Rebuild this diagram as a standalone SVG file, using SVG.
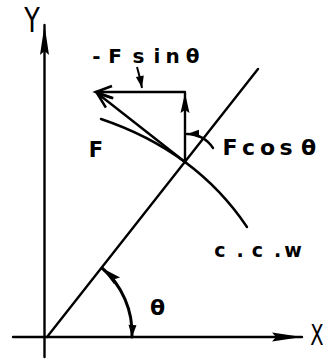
<svg xmlns="http://www.w3.org/2000/svg" width="323" height="359" viewBox="0 0 323 359">
<style>
.ln{fill:none;stroke:#000;stroke-width:2.4;stroke-linecap:round}
.thin{fill:none;stroke:#000;stroke-width:2}
.t{font-family:"DejaVu Sans","Liberation Sans",sans-serif;font-weight:bold;fill:#000}
.ax{font-family:"DejaVu Sans","Liberation Sans",sans-serif;font-weight:normal;fill:#000}
</style>
<defs>
<marker id="along" markerUnits="userSpaceOnUse" markerWidth="32" markerHeight="12" refX="30" refY="5" orient="auto" overflow="visible">
<path d="M0,0.5 L30,5 L0,9.5 L4,5 Z" fill="#000"/>
</marker>
<marker id="amid" markerUnits="userSpaceOnUse" markerWidth="22" markerHeight="12" refX="20" refY="4.5" orient="auto" overflow="visible">
<path d="M0,0 L20,4.5 L0,9 L3,4.5 Z" fill="#000"/>
</marker>
<marker id="aopen" markerUnits="userSpaceOnUse" markerWidth="18" markerHeight="14" refX="16" refY="6" orient="auto" overflow="visible">
<path d="M0,0 L16,6 L0,12" fill="none" stroke="#000" stroke-width="2.6" stroke-linejoin="miter"/>
</marker>
<marker id="asmall" markerUnits="userSpaceOnUse" markerWidth="14" markerHeight="10" refX="12" refY="4" orient="auto-start-reverse" overflow="visible">
<path d="M0,0 L12,4 L0,8 Z" fill="#000"/>
</marker>
</defs>
<g id="connectors">
<line id="y-axis" class="ln" x1="44.5" y1="357" x2="44.5" y2="25" marker-end="url(#along)"/>
<line id="x-axis" class="ln" x1="13" y1="337" x2="302" y2="337" marker-end="url(#along)"/>
<line id="diagonal" class="ln" x1="47" y1="337" x2="258" y2="69"/>
<path id="ccw-curve" class="ln" d="M101,119 Q196,151 247,227"/>
<line id="f-arrow" class="ln" x1="185" y1="162" x2="97" y2="93" marker-end="url(#aopen)"/>
<line id="fsin-arrow" class="ln" x1="185" y1="92" x2="96" y2="92" marker-end="url(#aopen)"/>
<line id="fcos-arrow" class="ln" x1="185" y1="162" x2="185" y2="93" marker-end="url(#amid)"/>
<path id="fsin-pointer" class="thin" d="M137,67 Q140,77 142,88" marker-end="url(#asmall)"/>
<path id="fcos-angle" class="ln" d="M213,148 A30,30 0 0 0 187,134" marker-end="url(#asmall)"/>
<path id="theta-arc" class="ln" style="stroke-width:3" d="M132,337 A86,86 0 0 0 102,268" marker-start="url(#asmall)" marker-end="url(#amid)"/>
</g>
<g id="label-Y"><text class="ax" transform="translate(32,32) scale(0.85,1.1)" font-size="30" text-anchor="middle">Y</text></g>
<g id="label-X"><text class="ax" transform="translate(317,345) scale(0.75,1.1)" font-size="26" text-anchor="middle">X</text></g>
<g id="label-fsin"><text class="t" x="96.5 115 138.5 157 172.5 192.5" y="63" font-size="20" text-anchor="middle">-Fsinθ</text></g>
<g id="label-F"><text class="t" x="96" y="157" font-size="21" text-anchor="middle">F</text></g>
<g id="label-fcos"><text class="t" x="230 248.5 267.5 286 308.5" y="155" font-size="22" text-anchor="middle">Fcosθ</text></g>
<g id="label-ccw"><text class="t" x="220 240 257.5 277.5 293" y="257" font-size="19" text-anchor="middle">c.c.w</text></g>
<g id="label-theta"><text class="t" x="157.5" y="315" font-size="22" text-anchor="middle">θ</text></g>
</svg>
